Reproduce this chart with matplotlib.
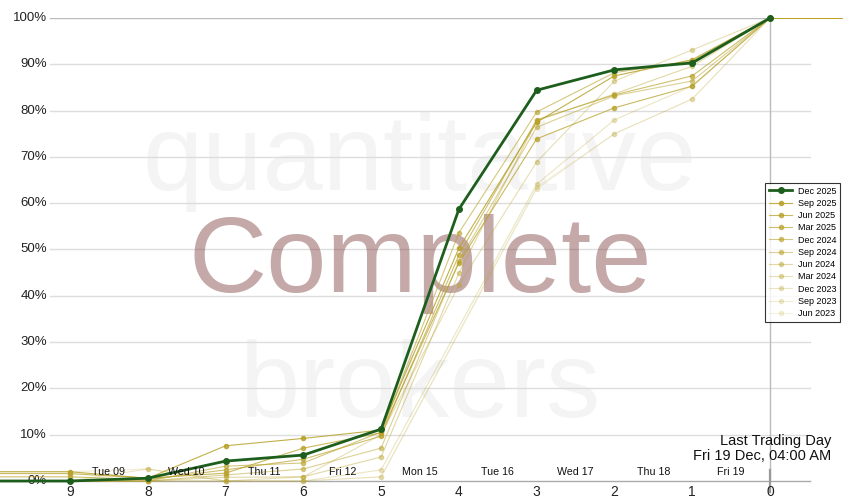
import numpy as np
import matplotlib
matplotlib.use('Agg')
import matplotlib.pyplot as plt

plt.rcParams['font.family'] = ['Liberation Sans', 'DejaVu Sans']

# Datos: dias de negociacion restantes (10 = antes del primer dia mostrado)
dias = [10, 9, 8, 7, 6, 5, 4, 3, 2, 1, 0]
etiquetas_x = ['9', '8', '7', '6', '5', '4', '3', '2', '1', '0']
fechas = ['Tue 09', 'Wed 10', 'Thu 11', 'Fri 12', 'Mon 15', 'Tue 16', 'Wed 17', 'Thu 18', 'Fri 19']

dec2025 = [0, 0, 0.6, 4.3, 5.6, 11.2, 58.7, 84.4, 88.8, 90.3, 100]

nombres = ['Sep 2025', 'Jun 2025', 'Mar 2025', 'Dec 2024', 'Sep 2024',
           'Jun 2024', 'Mar 2024', 'Dec 2023', 'Sep 2023', 'Jun 2023']
sep2025 = [2.0, 2.0, 0.6, 7.6, 9.2, 11.0, 50.3, 77.5, 87.5, 91.0, 100]
jun2025 = [1.6, 1.6, 0.6, 1.7, 7.1, 10.4, 47.1, 73.9, 80.6, 85.3, 100]
mar2025 = [0.9, 0.9, 0.3, 2.4, 4.7, 9.7, 48.8, 78.0, 83.4, 87.5, 100]
dec2024 = [0, 0, 0, 3.2, 3.9, 10.6, 53.6, 79.7, 88.2, 90.7, 100]
sep2024 = [0, 0, 0, 1.3, 2.6, 7.1, 47.5, 76.4, 83.2, 86.4, 100]
jun2024 = [0, 0, 0, 0.8, 0.9, 5.2, 44.9, 77.8, 83.6, 89.6, 100]
mar2024 = [0, 0, 0, 0, 0.9, 10.0, 42.3, 68.9, 86.4, 93.1, 100]
dec2023 = [0, 0, 2.6, 0, 0, 2.4, np.nan, 64.1, 78.0, 85.3, 100]
sep2023 = [2.0, 2.0, 2.6, 0, 0, 0.9, np.nan, 63.1, 75.0, 82.5, 100]
jun2023 = [0, 0, 0, 0, 0, 0.9, np.nan, 63.5, 75.0, 82.5, 100]
series = [sep2025, jun2025, mar2025, dec2024, sep2024,
          jun2024, mar2024, dec2023, sep2023, jun2023]
alfas = [0.85, 0.75, 0.68, 0.6, 0.5, 0.42, 0.35, 0.28, 0.2, 0.15]

# despues del cierre
cierre_x = [0, -0.93]
cierre_y = [100, 100]

W, H = 850, 500
fig = plt.figure(figsize=(W / 100, H / 100), dpi=100)
ax = fig.add_axes([0, 19 / H, 1, 463 / H])
paso = 700 / 9.0
ax.set_xlim(9 + 70 / paso, -(W - 770) / paso)
ax.set_ylim(0, 100)
ax.axis('off')

x0 = 50 / W
x1 = 810 / W

# Rejilla
for v in range(10, 100, 10):
    ax.axhline(v, xmin=x0, xmax=x1, color='#dddddd', lw=1, zorder=1)
ax.axhline(100, xmin=x0, xmax=770 / W, color='#bbbbbb', lw=1, zorder=1)
ax.axhline(0, xmin=0, xmax=x1, color='#aaaaaa', lw=1, zorder=1, clip_on=False)
for v in range(0, 101, 10):
    ax.text(47 / W, v, '%d%%' % v, transform=ax.get_yaxis_transform(),
            ha='right', va='center', fontsize=9.5, color='#222222')

# Marcas de agua
ax.text(420 / W, (H - 190) / H, 'quantitative', transform=fig.transFigure, fontsize=78,
        color='#f4f4f4', ha='center', va='baseline', zorder=0)
ax.text(420 / W, (H - 292) / H, 'Complete', transform=fig.transFigure, fontsize=78,
        color=(0.5, 0.25, 0.25), alpha=0.45, ha='center', va='baseline', zorder=2)
ax.text(420 / W, (H - 417) / H, 'brokers', transform=fig.transFigure, fontsize=78,
        color='#f4f4f4', ha='center', va='baseline', zorder=0)

# Linea del ultimo dia
ax.plot([0, 0], [100, 0], color='#bbbbbb', lw=1, zorder=1)
ax.plot([0, 0], [2.4, -2.4], color='#999999', lw=1.6, zorder=1, clip_on=False)

# Etiquetas del eje x
for i, t in enumerate(etiquetas_x):
    ax.text(9 - i, -2.3, t, ha='center', va='center', fontsize=10, color='#222222')
for i, f in enumerate(fechas):
    ax.text(8.5 - i, 1.9, f, ha='center', va='center', fontsize=7.7, color='#111111', zorder=6)

ax.text(831 / W, (H - 441) / H, 'Last Trading Day', transform=fig.transFigure,
        ha='right', va='center', fontsize=10.5, color='#111111')
ax.text(831 / W, (H - 456) / H, 'Fri 19 Dec, 04:00 AM', transform=fig.transFigure,
        ha='right', va='center', fontsize=10.5, color='#111111')

# Series
dias = np.array(dias, dtype=float)
ax.plot(dias, dec2025, '-o', color='#1d5e1d', lw=2, ms=4, zorder=5,
        clip_on=False, label='Dec 2025')
for nombre, s, a in zip(nombres, series, alfas):
    s = np.array(s, dtype=float)
    ok = ~np.isnan(s)
    ax.plot(dias[ok], s[ok], '-o', color='#b8a22a', alpha=a, lw=0.8, ms=3,
            zorder=4, clip_on=False, label=nombre)
ax.plot(cierre_x, cierre_y, color='#b5960a', lw=1.3, zorder=3)

leg = ax.legend(loc='upper right', bbox_to_anchor=(840 / W, (H - 183 - 19) / 463),
                fontsize=6.5, frameon=True, fancybox=False, edgecolor='black',
                borderaxespad=0, handlelength=2.6, labelspacing=0.36,
                borderpad=0.4, handletextpad=0.6)
leg.get_frame().set_linewidth(0.8)
leg.set_zorder(10)

fig.savefig('out.png', dpi=100)
